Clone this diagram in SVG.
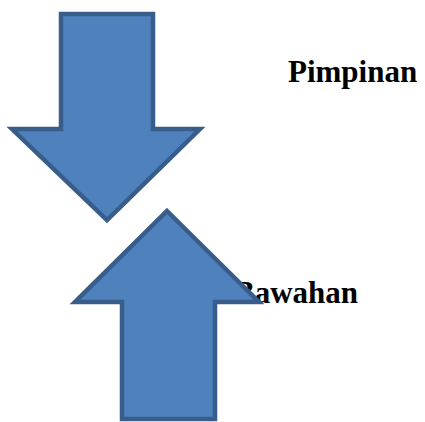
<svg xmlns="http://www.w3.org/2000/svg" width="425" height="422" viewBox="0 0 425 422">
<style>
.arrow{fill:#4F81BD;stroke:#385D8A;stroke-width:4.5;stroke-linejoin:miter;stroke-miterlimit:10}
.lbl{font-family:"Liberation Serif","Times New Roman",serif;font-weight:bold;font-size:31px;fill:#000}
</style>
<rect width="425" height="422" fill="#fff"/>
<g id="pimpinan"><text class="lbl" x="288" y="82">Pimpinan</text></g>
<g id="bawahan"><text class="lbl" x="234" y="303">Bawahan</text></g>
<g id="connectors">
<path id="arrow-down" class="arrow" d="M61,14 H153 V129 H200 L107,220 L12,129 H61 Z"/>
<path id="arrow-up" class="arrow" d="M167,211 L259,302 H215 V419 H122 V302 H75 Z"/>
</g>
</svg>
